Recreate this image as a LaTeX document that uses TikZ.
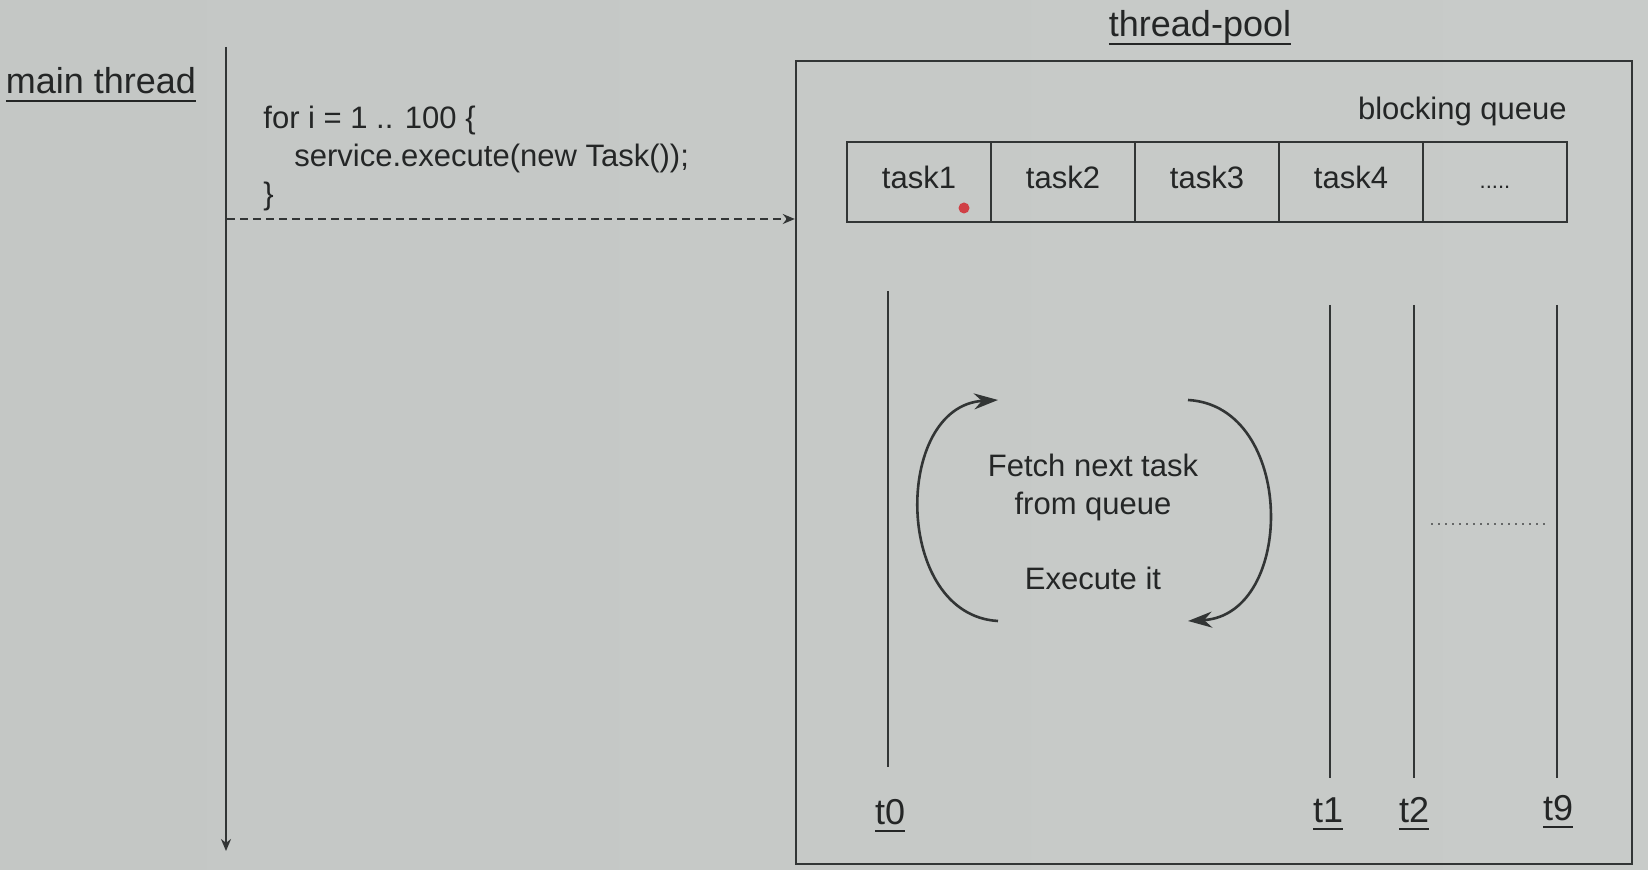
\documentclass[tikz,border=0pt]{standalone}
\usepackage{fontspec}
\setmainfont{Liberation Sans}
\usetikzlibrary{arrows.meta,fit}
\definecolor{bgl}{RGB}{196,199,197}
\definecolor{bgm}{RGB}{214,216,214}
\definecolor{bgr}{RGB}{200,203,201}
\definecolor{ink}{RGB}{50,53,53}
\definecolor{txtc}{RGB}{36,38,38}
\definecolor{reddot}{RGB}{208,64,70}
\newcommand{\myul}[1]{\setbox0\hbox{#1}\rlap{\rule[-4.2pt]{\wd0}{1.3pt}}\box0}
\begin{document}
\begin{tikzpicture}[x=0.5pt,y=-0.5pt,
  lbl/.style={text=txtc, inner sep=0pt},
  big/.style={font=\fontsize{18}{21}\selectfont},
  norm/.style={font=\fontsize{15.5}{19}\selectfont},
  ln/.style={draw=ink, line width=1.1pt},
  cell/.style={draw=ink, line width=0.8pt, minimum width=72pt, minimum height=40pt,
    inner sep=0pt, text=txtc, font=\fontsize{15.5}{18}\selectfont,
    text height=11pt, text depth=4pt},
  cyc/.style={draw=ink, line width=1.3pt, -{Stealth[length=12pt,width=8pt]}},
  tip/.style={-{Stealth[length=6pt,width=5pt]}}
]
\shade[left color=bgl, middle color=bgm, right color=bgr] (0,0) rectangle (1648,870);
\useasboundingbox (0,0) rectangle (1648,870);

% main thread
\node[lbl,big,anchor=base] (mainlbl) at (101,94) {\myul{main thread}};
\coordinate (mt) at (226,47);
\coordinate (mb) at (226,851);
\draw[ln,tip] (mt) -- (mb);

\node[lbl,norm,anchor=north west,align=left] (code) at (263,106)
  {for i = 1 .. 100 \{\\\hspace*{1em}service.execute(new Task());\\\}};

% thread pool box
\node[lbl,big,anchor=base] (poollbl) at (1200,37) {\myul{thread-pool}};
\coordinate (pnw) at (796,61);
\coordinate (pse) at (1632,864);
\node[fit=(pnw)(pse), draw=ink, line width=1.2pt, inner sep=0pt] (pool) {};

\coordinate (dsrc) at (227,219);
\draw[ln, line width=0.9pt, dash pattern=on 4pt off 2.5pt, tip] (dsrc) -- (dsrc -| pool.west);

% blocking queue
\node[lbl,norm,anchor=base east] (bq) at (1567,120) {blocking queue};
\node[cell] (c1) at (919,182) {task1};
\node[cell] (c2) at (1063,182) {task2};
\node[cell] (c3) at (1207,182) {task3};
\node[cell] (c4) at (1351,182) {task4};
\node[cell, font=\fontsize{11}{13}\selectfont] (c5) at (1495,182) {.....};
\node[circle, fill=reddot, minimum size=5.5pt, inner sep=0pt] (dot) at (964,208) {};

% worker threads
\coordinate (t0a) at (888,291);  \coordinate (t0b) at (888,767);
\coordinate (t1a) at (1330,305); \coordinate (t1b) at (1330,778);
\coordinate (t2a) at (1414,305); \coordinate (t2b) at (1414,778);
\coordinate (t9a) at (1557,305); \coordinate (t9b) at (1557,778);
\draw[ln] (t0a) -- (t0b);
\draw[ln] (t1a) -- (t1b);
\draw[ln] (t2a) -- (t2b);
\draw[ln] (t9a) -- (t9b);
\node[lbl,big,anchor=base] (t0) at (890,824) {\myul{t0}};
\node[lbl,big,anchor=base] (t1) at (1328,822) {\myul{t1}};
\node[lbl,big,anchor=base] (t2) at (1414,822) {\myul{t2}};
\node[lbl,big,anchor=base] (t9) at (1558,820) {\myul{t9}};

\coordinate (da) at (1431,524);
\coordinate (db) at (1547,524);
\draw[draw=ink!75, line width=1pt, dash pattern=on 1.2pt off 2.3pt] (da) -- (db);

% cycle
\node[lbl,norm,align=center] (fetch) at (1093,487) {Fetch next task\\from queue};
\node[lbl,norm] (exec) at (1093,578) {Execute it};
\coordinate (la) at (998,621);
\coordinate (lb) at (998,400);
\coordinate (ra) at (1188,400);
\coordinate (rb) at (1188,621);
\draw[cyc] (la) .. controls (893,615) and (893,406) .. (lb);
\draw[cyc] (ra) .. controls (1296,406) and (1296,615) .. (rb);
\end{tikzpicture}
\end{document}
